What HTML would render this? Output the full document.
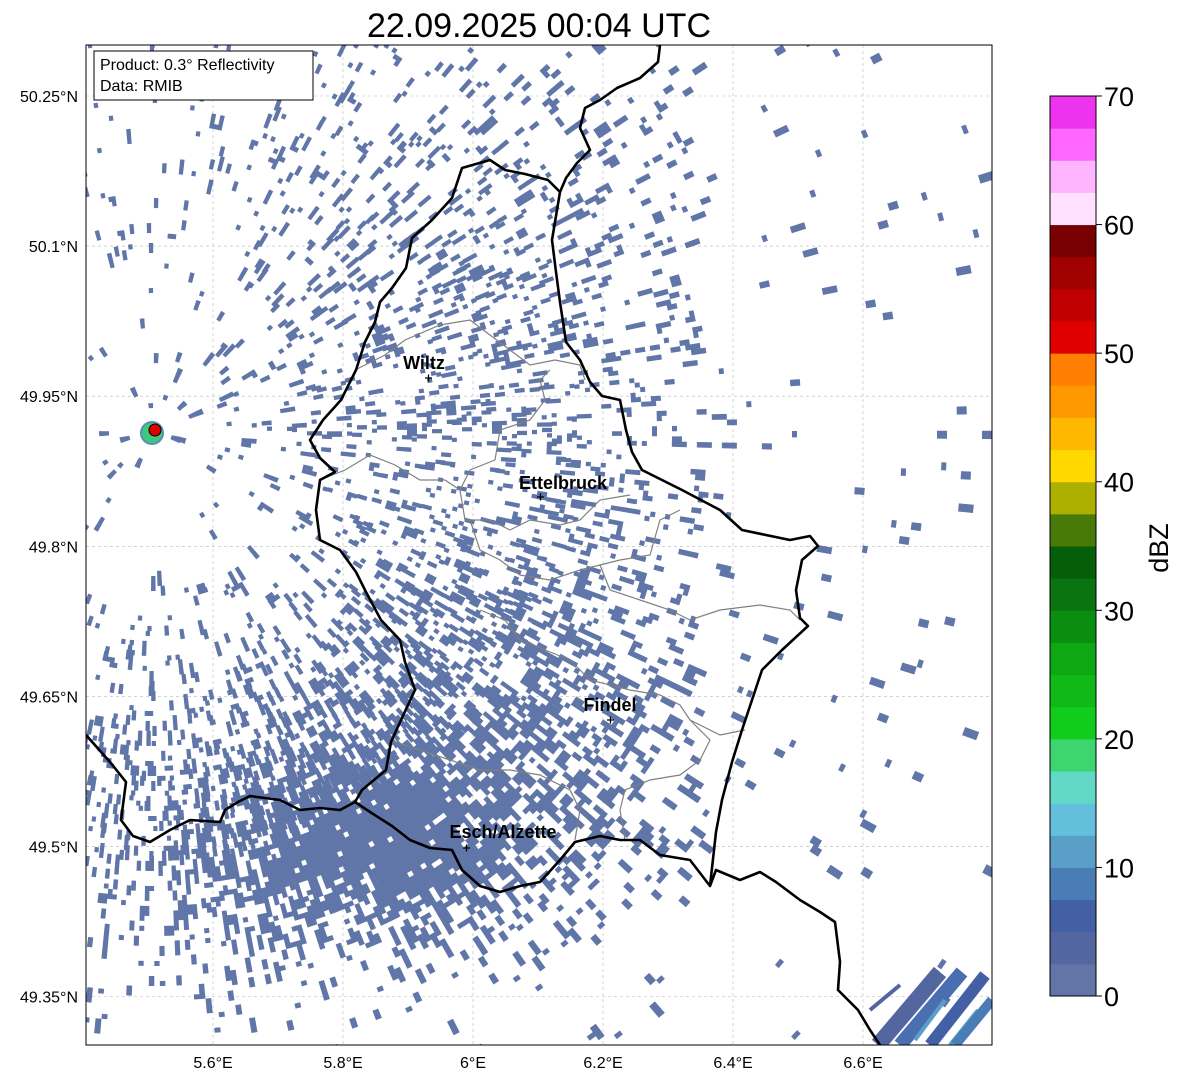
<!DOCTYPE html>
<html><head><meta charset="utf-8"><style>
html,body{margin:0;padding:0;background:#fff;}
svg{display:block;font-family:"Liberation Sans","DejaVu Sans",sans-serif;}
</style></head><body>
<svg id="svg" width="1184" height="1081" viewBox="0 0 1184 1081" xmlns="http://www.w3.org/2000/svg">
<defs><clipPath id="mapclip"><rect x="86" y="45" width="906" height="1000"/></clipPath></defs>
<text x="539" y="37" font-size="34" text-anchor="middle" fill="#000">22.09.2025 00:04 UTC</text>
<g id="grid"></g>
<g clip-path="url(#mapclip)">
<path id="echoes" fill="#6076a8"/>
<g id="blob"></g>
<g fill="none" stroke="#808080" stroke-width="1.2">
<path d="M355,370 L385,355 L405,340 L440,325 L470,320 L490,335 L510,350 L530,365 L555,360 L580,365 L585,380 M320,480 L345,470 L370,455 L395,465 L420,480 L445,480 L460,490 L470,470 L495,460 L500,430 L530,420 L545,400 L540,380 L550,370 M460,490 L465,520 L490,520 L510,530 L530,520 L560,525 L580,520 L600,500 L630,495 M470,520 L480,550 L500,560 L520,575 L550,580 L580,570 L600,565 L620,560 L650,555 L660,520 L680,510 M600,565 L610,590 L640,600 L670,610 L690,620 L720,610 L760,605 L790,610 L800,620 M480,610 L505,620 L520,640 L545,650 L570,660 L590,680 L630,690 L660,695 L680,705 L690,720 M390,740 L420,750 L450,760 L480,770 L510,770 L540,775 L570,790 L580,810 L575,840 M690,720 L710,740 L700,760 L680,775 L650,780 L625,790 L620,810 L625,840 M690,720 L720,735 L745,730"/>
</g>
<g fill="none" stroke="#000" stroke-width="2.6" stroke-linejoin="round">
<path d="M660,45 L658,62 L640,78 L617,88 L600,100 L585,108 L580,128 L590,150 L577,163 L566,178 L560,192 L548,180 L525,174 L505,170 L490,160 L462,168 L452,198 L432,220 L412,238 L406,268 L392,288 L380,302 L375,322 L365,342 L356,370 L341,400 L323,420 L310,440 L320,458 L335,472 L320,480 L316,510 L320,540 L340,550 L356,572 L366,592 L381,620 L400,640 L405,662 L415,690 L401,720 L391,742 L386,770 L362,790 L355,802 L340,810 L320,808 L300,810 L280,800 L250,796 L238,802 L225,810 L220,822 L190,820 L170,830 L150,842 L133,836 L121,820 L126,782 L110,762 L86,735"/>
<path d="M355,802 L370,812 L392,826 L410,840 L430,848 L452,850 L462,870 L480,886 L500,892 L520,886 L540,882 L560,860 L575,842 L600,836 L620,840 L640,840 L660,855 L690,860 L710,886 L716,870 L740,880 L760,872 L776,882 L800,900 L820,912 L835,922 L840,962 L838,990 L858,1010 L870,1030 L880,1045"/>
<path d="M560,192 L552,240 L556,272 L560,302 L566,342 L580,360 L590,382 L602,396 L620,400 L626,430 L632,452 L642,470 L682,490 L720,510 L742,530 L790,540 L810,536 L818,546 L802,560 L796,590 L800,618 L808,626 L782,650 L762,670 L752,700 L742,730 L732,762 L722,800 L716,832 L710,886"/>
</g>
</g>
<rect x="86" y="45" width="906" height="1000" fill="none" stroke="#000" stroke-width="1"/>
<g>
<circle cx="152" cy="433" r="11" fill="#3dc87a" stroke="#5a8fb8" stroke-width="2"/>
<circle cx="155" cy="430" r="6" fill="#e00000" stroke="#000" stroke-width="1"/>
</g>
<g font-size="18" font-weight="bold" text-anchor="middle" fill="#000">
<text x="424" y="369">Wiltz</text>
<text x="563" y="489">Ettelbruck</text>
<text x="610" y="711">Findel</text>
<text x="503" y="838">Esch/Alzette</text>
</g>
<g stroke="#000" stroke-width="1.3">
<path d="M425,378h7M428.5,374.5v7M537,497h7M540.5,493.5v7M607,720h7M610.5,716.5v7M463,848h7M466.5,844.5v7"/>
</g>
<g>
<rect x="94" y="51" width="219" height="49" fill="#fff" stroke="#000" stroke-width="1"/>
<text x="100" y="70" font-size="16" fill="#000">Product: 0.3° Reflectivity</text>
<text x="100" y="91" font-size="16" fill="#000">Data: RMIB</text>
</g>
<g id="axes"></g>
<g id="cbar"></g>
<text x="0" y="0" transform="translate(1168,548) rotate(-90)" font-size="27" text-anchor="middle" fill="#000">dBZ</text>
</svg>
<script>
const lonTicks = [5.6, 5.8, 6.0, 6.2, 6.4, 6.6];
const lonLabels = ["5.6°E","5.8°E","6°E","6.2°E","6.4°E","6.6°E"];
const latTicks = [50.25, 50.1, 49.95, 49.8, 49.65, 49.5, 49.35];
const latLabels = ["50.25°N","50.1°N","49.95°N","49.8°N","49.65°N","49.5°N","49.35°N"];
const cbarTicks = [0,10,20,30,40,50,60,70];
const cbarColors = ["#6374a6","#5466a0","#4460a4","#4a7db5","#5a9fc8","#63c0dc","#62d8c6","#3dd66e","#12cc1c","#10b818","#0ea814","#0a8e10","#0a7410","#075e0a","#487a0a","#adb000","#ffd800","#ffb800","#ff9800","#ff8000","#e00000","#c00000","#a00000","#780000","#ffe0ff","#ffb4ff","#ff66ff","#ee33ee"];
const NS="http://www.w3.org/2000/svg";
const xOf = lon => 213 + (lon-5.6)*650;
const yOf = lat => 96 + (50.25-lat)*1000.7;
const cY = v => 996 - v*12.857;
function mk(t,a,p){const e=document.createElementNS(NS,t);for(const k in a)e.setAttribute(k,a[k]);p.appendChild(e);return e;}
const grid=document.getElementById('grid'), axes=document.getElementById('axes');
lonTicks.forEach((v,i)=>{
  const x=xOf(v);
  const l=mk('line',{x1:x,x2:x,y1:45,y2:1045,stroke:'#b8b8b8','stroke-width':0.6,'stroke-dasharray':'3,3'},grid);
  
  
  const t=mk('text',{x:x,y:1068,'font-size':16,'text-anchor':'middle'},axes);
  t.textContent=lonLabels[i];
  
  
});
latTicks.forEach((v,i)=>{
  const y=yOf(v);
  const l=mk('line',{x1:86,x2:992,y1:y,y2:y,stroke:'#b8b8b8','stroke-width':0.6,'stroke-dasharray':'3,3'},grid);
  
  
  const t=mk('text',{x:78,y:y+6,'font-size':16,'text-anchor':'end'},axes);
  t.textContent=latLabels[i];
  
  
});
const cbar=document.getElementById('cbar');
cbarColors.forEach((c,i)=>{
  const y0=cY(i*2.5), y1=cY((i+1)*2.5);
  const r=mk('rect',{x:1050,y:y1,width:46,height:y0-y1+0.5,fill:c},cbar);
  
  
});
mk('rect',{x:1050,y:cY(70),width:46,height:cY(0)-cY(70),fill:'none',stroke:'#000','stroke-width':1},cbar);
cbarTicks.forEach(v=>{
  const y=cY(v);
  mk('line',{x1:1096,x2:1102,y1:y,y2:y,stroke:'#000'},cbar);
  const t=mk('text',{x:1104,y:y+10,'font-size':27},cbar);
  t.textContent=String(v);
  
  
});
// radar echo texture (polar bins around radar site)
let s=12345;function rnd(){s|=0;s=s+0x6D2B79F5|0;let t=Math.imul(s^s>>>15,1|s);t=t+Math.imul(t^t>>>7,61|t)^t;return((t^t>>>14)>>>0)/4294967296;}
const RX=153,RY=432;
function g(x,y,cx,cy,sx,sy){return Math.exp(-((x-cx)**2/(sx*sx)+(y-cy)**2/(sy*sy)));}
function dens(x,y){
  let p=0.035+0.8*g(x,y,370,840,130,70)+0.3*g(x,y,500,700,170,160)+0.14*g(x,y,480,330,200,220)+0.18*g(x,y,300,760,190,110)+0.1*g(x,y,200,880,150,120);
  if(x>700)p*=0.3; if(x>600&&y>880)p*=0.3; if(y>960)p*=0.6;
  const d=Math.hypot(x-RX,y-RY); if(d<150)p*=0.4;
  return Math.min(p,0.92);
}
let dstr='';
for(let r=14;r<1150;r+=5){
  const step=Math.max(0.01,4.2/r);
  for(let a=-Math.PI;a<Math.PI;a+=step){
    const x=RX+r*Math.cos(a),y=RY+r*Math.sin(a);
    if(x<80||x>1000||y<40||y>1050)continue;
    if(rnd()>dens(x,y))continue;
    const r2=r+5*(1+Math.floor(rnd()*2.5)), a2=a+step;
    const p=[[r,a],[r2,a],[r2,a2],[r,a2]].map(q=>(RX+q[0]*Math.cos(q[1])).toFixed(1)+','+(RY+q[0]*Math.sin(q[1])).toFixed(1));
    dstr+='M'+p.join('L')+'Z';
  }
}
document.getElementById('echoes').setAttribute('d',dstr);
const blob=document.getElementById('blob');
[[878,1045,940,972,16,'#5466a0'],[900,1045,962,972,14,'#4a6fb0'],[930,1045,985,975,12,'#4460a4'],[915,1040,945,1000,4,'#5a9fc8'],[950,1045,978,1010,4,'#5a9fc8'],[870,1010,900,985,4,'#5466a0'],[955,1045,992,1000,10,'#4a7db5']].forEach(b=>{
  const l=mk('line',{x1:b[0],y1:b[1],x2:b[2],y2:b[3],stroke:b[5],'stroke-width':b[4]},blob);
  
  
});
</script>
</body></html>
